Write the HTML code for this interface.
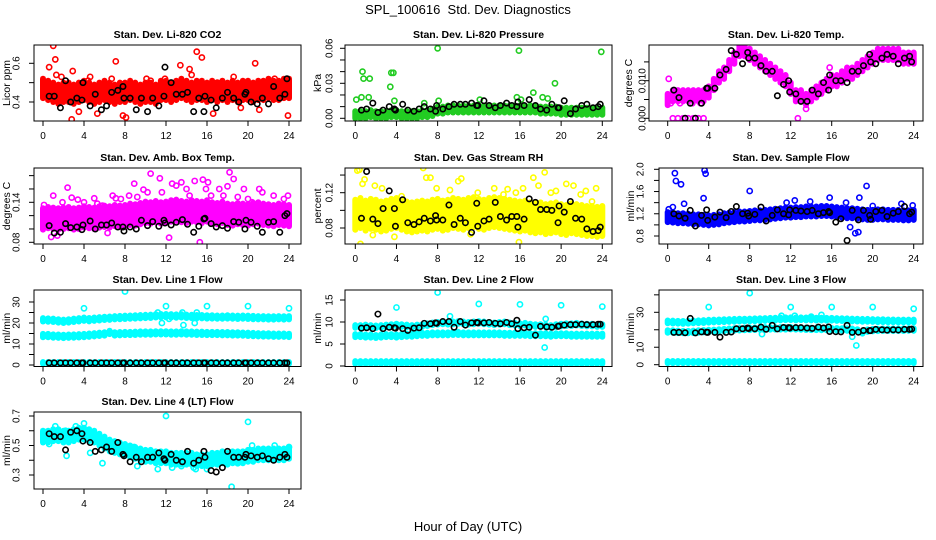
<!DOCTYPE html>
<html><head><meta charset="utf-8"><style>
body{margin:0;background:#fff}
svg{display:block;font-family:"Liberation Sans",sans-serif}
</style></head><body>
<svg id="c" width="936" height="540" viewBox="0 0 936 540">
<text x="468" y="14" text-anchor="middle" font-size="13">SPL_100616&#160; Std. Dev. Diagnostics</text>
<text x="468" y="531" text-anchor="middle" font-size="13">Hour of Day (UTC)</text>
</svg>
<script>
const blkT=[0.6,1.1,1.7,2.2,2.7,3.3,3.8,3.9,4.6,5.1,5.7,6.2,6.7,7.3,7.8,7.9,8.5,9.1,9.6,10.2,10.7,11.3,11.8,11.9,12.5,13.0,13.6,14.1,14.7,15.2,15.7,15.8,16.4,16.9,17.5,18.0,18.6,19.1,19.7,19.8,20.3,20.9,21.4,22.0,22.5,23.1,23.6,23.8];

const co2Band=[0.47,0.46,0.45,0.44,0.45,0.45,0.44,0.45,0.46,0.45,0.44,0.45,0.46,0.45,0.44,0.45,0.45,0.46,0.45,0.44,0.45,0.45,0.44,0.46,0.46,0.45,0.46,0.47,0.46,0.45,0.46,0.46,0.45,0.46,0.45,0.46,0.45,0.46,0.45,0.46,0.46,0.45,0.46,0.46,0.47,0.46,0.46,0.47,0.47];
const co2OutT=[0.1,0.6,1.0,1.2,1.3,1.8,2.8,2.9,3.5,4.4,4.6,5.3,6.7,7.1,7.8,8.1,10.1,10.5,11.9,13.4,14.3,14.5,15.0,15.5,15.9,16.6,17.0,17.5,18.6,19.3,20.7,21.1,22.6,23.9];
const co2OutV=[0.46,0.58,0.69,0.62,0.54,0.53,0.31,0.56,0.35,0.51,0.53,0.34,0.52,0.61,0.33,0.32,0.52,0.51,0.52,0.59,0.57,0.54,0.66,0.63,0.28,0.34,0.50,0.50,0.53,0.37,0.60,0.36,0.52,0.33];
const co2Blk=[0.43,0.43,0.37,0.51,0.40,0.42,0.41,0.50,0.38,0.44,0.36,0.38,0.45,0.46,0.48,0.42,0.42,0.36,0.42,0.35,0.42,0.38,0.43,0.58,0.50,0.44,0.44,0.45,0.35,0.42,0.35,0.43,0.41,0.37,0.42,0.45,0.42,0.40,0.44,0.45,0.40,0.39,0.42,0.39,0.48,0.42,0.44,0.52];

const presBand=[0.003,0.003,0.003,0.004,0.003,0.003,0.003,0.004,0.004,0.003,0.003,0.003,0.003,0.004,0.004,0.005,0.007,0.007,0.008,0.008,0.008,0.008,0.008,0.008,0.008,0.008,0.008,0.008,0.008,0.008,0.008,0.008,0.008,0.008,0.008,0.008,0.007,0.007,0.007,0.007,0.006,0.006,0.006,0.006,0.006,0.006,0.006,0.006,0.006];
const presOutT=[0.1,0.6,0.7,0.8,1.3,1.4,3.4,3.5,3.7,3.8,6.7,8.0,8.1,12.1,15.7,15.9,16.1,17.3,18.2,18.7,19.4,23.9];
const presOutV=[0.016,0.018,0.040,0.034,0.018,0.034,0.027,0.039,0.039,0.015,0.013,0.060,0.015,0.016,0.018,0.058,0.016,0.022,0.018,0.017,0.030,0.057];
const presBlk=[0.007,0.008,0.013,0.005,0.007,0.010,0.008,0.007,0.012,0.007,0.006,0.008,0.010,0.008,0.006,0.011,0.008,0.010,0.012,0.012,0.012,0.013,0.011,0.011,0.015,0.011,0.009,0.011,0.013,0.011,0.010,0.014,0.011,0.016,0.011,0.008,0.007,0.012,0.009,0.009,0.015,0.004,0.008,0.011,0.012,0.009,0.010,0.012];

const tempBand=[0.005,0.006,0.006,0.006,0.006,0.006,0.006,0.006,0.007,0.009,0.011,0.012,0.014,0.016,0.018,0.018,0.017,0.016,0.015,0.014,0.013,0.012,0.011,0.010,0.008,0.006,0.006,0.005,0.006,0.007,0.008,0.009,0.010,0.010,0.011,0.012,0.012,0.013,0.014,0.015,0.016,0.017,0.017,0.017,0.017,0.017,0.016,0.016,0.016];
const tempOutT=[0.5,1.0,1.5,2.0,2.5,3.0,3.5,0.1,12.7,15.8,13.5,0.3,1.2,2.4,3.2];
const tempOutV=[0,0,0,0,0,0,0,0.0105,0,0.0135,0.0025,0.004,0.004,0.004,0.004];
const tempBlk=[0.0075,0.0055,0.000,0.0040,0.000,0.0040,0.0080,0.0080,0.0080,0.0115,0.0130,0.0180,0.0170,0.0145,0.0175,0.0160,0.0160,0.0140,0.0125,0.0125,0.0060,0.0090,0.0100,0.0070,0.0065,0.0045,0.0045,0.0075,0.0065,0.0095,0.0075,0.0115,0.0100,0.0100,0.0095,0.0125,0.0125,0.0140,0.0170,0.0150,0.0145,0.0160,0.0170,0.0165,0.0145,0.0160,0.0165,0.0150];

const ambBand=[0.115,0.117,0.116,0.115,0.116,0.117,0.115,0.116,0.118,0.117,0.116,0.118,0.119,0.118,0.120,0.119,0.120,0.122,0.121,0.123,0.125,0.124,0.126,0.124,0.125,0.127,0.128,0.126,0.125,0.127,0.126,0.125,0.127,0.124,0.123,0.125,0.122,0.121,0.123,0.122,0.121,0.123,0.124,0.122,0.121,0.120,0.122,0.121,0.120];
const ambOutT=[0.1,0.3,0.8,1.0,1.4,1.9,2.4,2.8,3.4,4.0,5.0,5.3,5.8,6.3,6.8,7.1,7.6,8.4,8.9,9.2,9.8,10.2,10.5,11.4,11.6,12.3,12.6,13.0,13.5,14.0,14.3,14.8,15.3,15.6,15.9,16.1,16.4,17.2,17.6,18.0,18.2,18.6,19.0,19.6,20.0,20.4,21.1,21.4,22.0,22.5,23.0,23.5,23.9];
const ambOutV=[0.136,0.104,0.088,0.150,0.090,0.140,0.162,0.147,0.144,0.140,0.146,0.138,0.135,0.094,0.150,0.146,0.145,0.150,0.168,0.148,0.159,0.155,0.183,0.176,0.155,0.087,0.168,0.165,0.170,0.160,0.150,0.172,0.080,0.174,0.160,0.170,0.150,0.160,0.150,0.164,0.185,0.175,0.148,0.160,0.145,0.140,0.160,0.155,0.130,0.150,0.135,0.145,0.150];
const ambBlk=[0.105,0.094,0.095,0.108,0.102,0.103,0.099,0.106,0.112,0.100,0.106,0.106,0.109,0.103,0.103,0.097,0.103,0.100,0.113,0.105,0.111,0.104,0.113,0.109,0.106,0.110,0.114,0.107,0.095,0.104,0.115,0.116,0.108,0.103,0.105,0.101,0.111,0.110,0.100,0.113,0.110,0.104,0.095,0.110,0.111,0.095,0.120,0.123];

const rhBand=[0.095,0.097,0.094,0.096,0.095,0.093,0.094,0.096,0.097,0.095,0.093,0.092,0.093,0.094,0.093,0.095,0.096,0.094,0.095,0.097,0.096,0.095,0.097,0.098,0.096,0.095,0.097,0.098,0.097,0.096,0.095,0.094,0.093,0.094,0.092,0.091,0.092,0.090,0.091,0.092,0.090,0.089,0.091,0.090,0.089,0.088,0.088,0.087,0.088];
const rhOutT=[0.2,0.4,0.5,0.7,0.9,1.7,1.9,2.6,3.3,3.8,4.5,5.1,6.6,6.9,7.3,7.9,8.3,9.2,10.0,10.3,11.2,11.9,12.8,13.5,14.4,14.8,15.6,15.9,16.3,17.3,17.8,18.4,19.0,19.5,20.5,21.2,21.9,22.4,23.0,23.4];
const rhOutV=[0.145,0.146,0.062,0.130,0.135,0.072,0.128,0.125,0.110,0.070,0.116,0.108,0.148,0.137,0.137,0.125,0.110,0.123,0.133,0.136,0.073,0.120,0.108,0.125,0.118,0.124,0.120,0.064,0.125,0.137,0.128,0.143,0.120,0.122,0.130,0.128,0.118,0.122,0.110,0.125];
const rhBlk=[0.091,0.144,0.090,0.085,0.102,0.122,0.102,0.082,0.112,0.086,0.084,0.087,0.091,0.088,0.094,0.089,0.089,0.106,0.084,0.091,0.086,0.075,0.108,0.082,0.088,0.090,0.109,0.093,0.089,0.093,0.093,0.081,0.090,0.113,0.109,0.101,0.101,0.100,0.086,0.105,0.098,0.110,0.091,0.090,0.079,0.076,0.077,0.081];

const sfBand=[1.14,1.13,1.12,1.12,1.11,1.10,1.10,1.09,1.08,1.09,1.10,1.12,1.13,1.14,1.15,1.15,1.16,1.17,1.17,1.18,1.19,1.20,1.21,1.22,1.22,1.23,1.23,1.24,1.24,1.24,1.25,1.25,1.24,1.23,1.22,1.21,1.21,1.20,1.19,1.18,1.18,1.19,1.19,1.18,1.18,1.18,1.17,1.17,1.18];
const sfOutT=[0.1,0.5,0.7,0.8,1.3,1.6,3.5,3.6,3.7,8.0,11.6,12.4,13.9,15.8,17.4,17.8,18.3,18.6,18.7,19.4,20.0,22.8,23.9];
const sfOutV=[1.28,1.32,1.93,1.79,1.73,1.38,1.48,1.98,1.92,1.61,1.40,1.44,1.42,1.49,1.40,0.96,0.85,0.87,1.49,1.70,1.34,1.38,1.35];
const sfBlk=[1.20,1.16,1.12,1.26,0.98,1.17,1.27,1.08,1.14,1.23,1.13,1.24,1.33,1.20,1.21,1.16,1.19,1.32,1.07,1.17,1.27,1.20,1.18,1.27,1.26,1.25,1.24,1.26,1.20,1.22,1.24,1.22,1.05,1.11,0.72,1.26,1.09,1.26,1.17,1.10,1.24,1.26,1.15,1.21,1.24,1.33,1.20,1.23];

const l1BandA=[21.5,21.4,21.3,21.0,20.8,21.0,21.3,21.5,21.8,21.6,21.8,22.0,22.2,22.3,22.5,22.6,22.7,22.8,22.9,23.0,23.1,23.2,23.4,23.5,23.5,23.4,23.3,23.4,23.2,23.1,23.0,23.0,22.9,22.9,22.8,22.8,22.9,22.8,22.7,22.8,22.7,22.6,22.5,22.5,22.4,22.4,22.5,22.4,22.5];
const l1BandB=[14.0,14.0,13.8,13.7,13.6,13.7,13.8,13.9,14.0,14.2,14.4,14.6,14.8,15.5,14.8,14.9,15.0,15.0,15.1,15.2,15.2,15.2,15.3,15.3,15.3,15.2,15.2,15.3,15.2,15.2,15.1,15.1,15.0,15.0,15.0,14.9,14.9,14.8,14.8,14.7,14.6,14.5,14.4,14.3,14.3,14.2,14.2,14.2,14.1];
const l1BandC=[1.0,1.0,1.0,1.0,1.0,1.0,1.0,1.0,1.0,1.0,1.0,1.0,1.0,1.0,1.0,1.0,1.0,1.0,1.0,1.0,1.0,1.0,1.0,1.0,1.0,1.0,1.0,1.0,1.0,1.0,1.0,1.0,1.0,1.0,1.0,1.0,1.0,1.0,1.0,1.0,1.0,1.0,1.0,1.0,1.0,1.0,1.0,1.0,1.0];
const l1OutT=[4.0,8.0,11.2,11.6,12.0,12.3,13.6,13.7,14.8,15.0,16.0,20.0,24.0];
const l1OutV=[27,35,25,20,28,22,25,19,20,25,28,28,27];
const l1Blk=[1.0,1.0,1.0,1.0,1.0,1.0,1.0,1.0,1.0,1.0,1.0,1.0,1.0,1.0,1.0,1.0,1.0,1.0,1.0,1.0,1.0,1.0,1.0,1.0,1.0,1.0,1.0,1.0,1.0,1.0,1.0,1.0,1.0,1.0,1.0,1.0,1.0,1.0,1.0,1.0,1.0,1.0,1.0,1.0,1.0,1.0,1.0,1.0];

const l2BandA=[9.0,9.0,9.1,9.0,8.9,9.0,9.1,9.2,9.3,9.2,9.1,9.0,9.1,9.2,9.4,9.6,9.7,9.8,9.7,9.8,9.9,9.8,9.7,9.8,9.9,9.8,9.7,9.6,9.7,9.8,9.6,9.5,9.4,9.5,9.3,9.2,9.2,9.1,9.0,9.2,9.3,9.4,9.4,9.5,9.4,9.3,9.3,9.2,9.2];
const l2BandB=[6.9,6.9,6.8,6.8,6.7,6.8,6.9,6.9,6.8,6.9,7.0,7.0,7.1,7.2,7.2,7.3,7.3,7.3,7.3,7.4,7.4,7.3,7.3,7.3,7.3,7.3,7.3,7.3,7.3,7.2,7.2,7.2,7.2,7.2,7.1,7.1,7.1,7.1,7.0,7.1,7.1,7.1,7.0,7.0,7.0,7.0,7.0,7.0,7.0];
const l2BandC=[0.8,0.8,0.8,0.8,0.8,0.8,0.8,0.8,0.8,0.8,0.8,0.8,0.8,0.8,0.8,0.8,0.8,0.8,0.8,0.8,0.8,0.8,0.8,0.8,0.8,0.8,0.8,0.8,0.8,0.8,0.8,0.8,0.8,0.8,0.8,0.8,0.8,0.8,0.8,0.8,0.8,0.8,0.8,0.8,0.8,0.8,0.8,0.8,0.8];
const l2OutT=[4.0,8.0,9.2,12.0,16.0,18.4,18.5,20.0,24.0];
const l2OutV=[13.3,16.7,11.3,14.1,14.0,4.2,10.7,13.8,13.5];
const l2Blk=[8.6,8.7,8.5,11.8,8.5,8.8,8.7,8.6,8.5,8.1,8.6,8.7,9.7,9.6,9.8,9.7,10.1,10.1,8.8,10.1,9.3,9.8,9.9,9.8,9.8,9.9,9.7,9.6,9.9,9.6,10.4,8.5,8.7,8.8,7.0,9.0,8.9,8.8,9.0,9.1,9.3,9.4,9.4,9.5,9.4,9.4,9.5,9.5];

const l3BandA=[24.5,24.4,24.3,24.2,24.3,24.5,24.6,24.7,24.9,25.0,25.1,25.2,25.3,25.4,25.5,25.5,25.6,25.7,25.8,25.9,26.0,26.1,26.2,26.3,26.3,26.2,26.3,26.2,26.2,26.1,26.1,26.0,26.0,25.9,25.8,25.7,25.6,25.5,25.4,25.4,25.3,25.2,25.2,25.1,25.1,25.0,25.0,25.0,25.0];
const l3BandB=[19.0,19.0,18.8,18.7,18.7,18.8,19.0,19.2,19.3,19.4,19.6,19.8,20.0,20.2,20.3,20.4,20.5,20.6,20.7,20.8,20.8,20.8,20.8,20.8,20.9,20.8,20.7,20.6,20.5,20.5,20.4,20.4,20.3,20.3,20.2,20.1,20.0,19.6,18.5,19.5,19.8,19.9,20.0,20.0,20.0,20.0,20.0,20.1,20.1];
const l3BandC=[1.5,1.5,1.5,1.5,1.5,1.5,1.5,1.5,1.5,1.5,1.5,1.5,1.5,1.5,1.5,1.5,1.5,1.5,1.5,1.5,1.5,1.5,1.5,1.5,1.5,1.5,1.5,1.5,1.5,1.5,1.5,1.5,1.5,1.5,1.5,1.5,1.5,1.5,1.5,1.5,1.5,1.5,1.5,1.5,1.5,1.5,1.5,1.5,1.5];
const l3OutT=[4.0,8.0,12.0,16.0,20.0,24.0,18.4,18.0,9.2,11.1,12.4,14.0,15.0];
const l3OutV=[33,41,33,33,33,32,11,16,17.5,28,28,27.5,28.5];
const l3Blk=[18.5,18.5,18.3,26.5,18.2,18.8,18.6,18.5,18.5,15.8,18.5,18.7,20.6,20.6,21.0,20.7,20.6,21.5,20.3,22.5,20.5,21.3,21.2,21.0,21.2,21.2,21.0,20.8,21.5,21.0,21.6,19.0,18.9,18.8,22.5,18.5,18.6,19.6,19.5,19.5,20.2,20.0,19.8,20.0,19.9,20.2,20.2,20.4];

const l4Band=[0.56,0.56,0.57,0.57,0.56,0.56,0.57,0.58,0.58,0.57,0.56,0.54,0.52,0.50,0.49,0.48,0.47,0.46,0.45,0.44,0.43,0.43,0.42,0.42,0.42,0.41,0.41,0.41,0.41,0.41,0.40,0.40,0.40,0.41,0.41,0.42,0.41,0.42,0.42,0.42,0.43,0.43,0.44,0.44,0.44,0.44,0.44,0.44,0.45];
const l4OutT=[0.3,0.6,1.2,2.2,2.3,3.2,4.0,4.6,5.8,6.3,8.9,9.2,11.2,12.0,12.6,13.5,14.7,14.9,16.0,18.4,19.0,20.0,20.4,22.6,24.0];
const l4OutV=[0.55,0.51,0.63,0.60,0.43,0.63,0.65,0.45,0.38,0.53,0.49,0.36,0.34,0.70,0.35,0.36,0.35,0.34,0.34,0.22,0.38,0.66,0.50,0.50,0.49];
const l4Blk=[0.58,0.56,0.56,0.47,0.59,0.60,0.58,0.53,0.52,0.46,0.47,0.49,0.46,0.52,0.44,0.43,0.39,0.42,0.39,0.42,0.42,0.45,0.41,0.40,0.44,0.40,0.39,0.46,0.38,0.40,0.46,0.42,0.33,0.32,0.35,0.46,0.42,0.42,0.42,0.44,0.43,0.42,0.43,0.41,0.40,0.42,0.44,0.42];

const xTicks=[0,4,8,12,16,20,24];
const cols=[{l:34,r:301,x0:43,x24:289,lab:17,tit:7},{l:345,r:612,x0:355.3,x24:602.3,lab:330,tit:318},{l:649,r:923,x0:667.7,x24:913.7,lab:643,tit:629}];
const rows=[{t:45,b:121},{t:168,b:244},{t:290,b:366.5},{t:412,b:489}];
const panels=[
 {name:'co2',title:'Stan. Dev. Li-820 CO2',yt:'Licor ppm',c:0,r:0,col:'#ff0000',ref:[0.6,63.3,0.4,102],ticks:[0.4,0.5,0.6],labs:['0.4','0.6'],bands:[[co2Band,0.05]],oT:co2OutT,oV:co2OutV,blk:co2Blk},
 {name:'pressure',title:'Stan. Dev. Li-820 Pressure',yt:'kPa',c:1,r:0,col:'#22cc22',ref:[0.06,48.3,0,118.3],ticks:[0,0.01,0.02,0.03,0.04,0.05,0.06],labs:['0.00','0.03','0.06'],bands:[[presBand,0.003]],oT:presOutT,oV:presOutV,blk:presBlk},
 {name:'temp',title:'Stan. Dev. Li-820 Temp.',yt:'degrees C',c:2,r:0,col:'#ff00ff',ref:[0.01,80.7,0,118.3],ticks:[0,0.005,0.01,0.015],labs:['0.000','0.010'],bands:[[tempBand,0.0015]],oT:tempOutT,oV:tempOutV,blk:tempBlk},
 {name:'amb-box-temp',title:'Stan. Dev. Amb. Box Temp.',yt:'degrees C',c:0,r:1,col:'#ff00ff',ref:[0.14,202.3,0.08,242.3],ticks:[0.08,0.10,0.12,0.14,0.16,0.18],labs:['0.08','0.14'],bands:[[ambBand,0.016]],oT:ambOutT,oV:ambOutV,blk:ambBlk},
 {name:'gas-rh',title:'Stan. Dev. Gas Stream RH',yt:'percent',c:1,r:1,col:'#ffff00',ref:[0.12,192.7,0.08,228],ticks:[0.08,0.10,0.12,0.14],labs:['0.08','0.12'],bands:[[rhBand,0.017]],oT:rhOutT,oV:rhOutV,blk:rhBlk},
 {name:'sample-flow',title:'Stan. Dev. Sample Flow',yt:'ml/min',c:2,r:1,col:'#0000ff',l:659,lab:641,tit:631,ref:[2.0,169.3,0.8,236],ticks:[0.8,1.0,1.2,1.4,1.6,1.8,2.0],labs:['0.8','1.2','1.6','2.0'],bands:[[sfBand,0.09]],oT:sfOutT,oV:sfOutV,blk:sfBlk},
 {name:'line1-flow',title:'Stan. Dev. Line 1 Flow',yt:'ml/min',c:0,r:2,col:'#00ffff',ref:[30,302,0,365],ticks:[0,5,10,15,20,25,30],labs:['0','10','20','30'],bands:[[l1BandA,0.8],[l1BandB,0.8],[l1BandC,0.4]],oT:l1OutT,oV:l1OutV,blk:l1Blk},
 {name:'line2-flow',title:'Stan. Dev. Line 2 Flow',yt:'ml/min',c:1,r:2,col:'#00ffff',ref:[15,300,0,366],ticks:[0,5,10,15],labs:['0','5','10','15'],bands:[[l2BandA,0.3],[l2BandB,0.35],[l2BandC,0.3]],oT:l2OutT,oV:l2OutV,blk:l2Blk},
 {name:'line3-flow',title:'Stan. Dev. Line 3 Flow',yt:'ml/min',c:2,r:2,col:'#00ffff',l:659,lab:641,tit:631,ref:[30,312.3,0,364.7],ticks:[0,10,20,30,40],labs:['0','10','30'],bands:[[l3BandA,0.8],[l3BandB,0.7],[l3BandC,0.6]],oT:l3OutT,oV:l3OutV,blk:l3Blk},
 {name:'line4-flow',title:'Stan. Dev. Line 4 (LT) Flow',yt:'ml/min',c:0,r:3,col:'#00ffff',ref:[0.7,416,0.3,475],ticks:[0.3,0.4,0.5,0.6,0.7],labs:['0.3','0.5','0.7'],bands:[[l4Band,0.04]],oT:l4OutT,oV:l4OutV,blk:l4Blk}
];
const NS='http://www.w3.org/2000/svg';
const svg=document.getElementById('c');
function mk(tag,attrs,parent){const e=document.createElementNS(NS,tag);for(const k in attrs)e.setAttribute(k,attrs[k]);parent.appendChild(e);return e;}
panels.forEach((p,pi)=>{
 const C=cols[p.c],R=rows[p.r];
 const L=p.l||C.l, Rt=C.r, T=R.t, B=R.b;
 const xs=t=>C.x0+(C.x24-C.x0)*t/24;
 const ys=v=>p.ref[1]+(v-p.ref[0])*(p.ref[3]-p.ref[1])/(p.ref[2]-p.ref[0]);
 const g=mk('g',{},svg);
 
 
 const cp=mk('clipPath',{id:'cp'+pi},g);
 mk('rect',{x:L,y:T,width:Rt-L,height:B-T},cp);
 const tt=mk('text',{x:(L+Rt)/2,y:T-7,'text-anchor':'middle','font-size':10.5,'font-weight':'bold'},g);
 tt.textContent=p.title;
 
 
 const marks=mk('g',{'clip-path':'url(#cp'+pi+')'},g);
 
 
 p.bands.forEach(([arr,sp])=>{
  const n=arr.length;
  arr.forEach((v,i)=>{
   const t=i*24/(n-1);
   const y1=ys(v+sp),y2=ys(v-sp);
   const ln=mk('line',{x1:xs(t),x2:xs(t),y1:y1,y2:y2,stroke:p.col,'stroke-width':6,'stroke-linecap':'round'},marks);
   
   
  });
 });
 p.oT.forEach((t,i)=>{
  if(p.oV[i]===undefined)return;
  const c=mk('circle',{cx:xs(t),cy:ys(p.oV[i]),r:2.6,fill:'none',stroke:p.col,'stroke-width':1.6},marks);
  
  
 });
 p.blk.forEach((v,i)=>{
  if(blkT[i]===undefined)return;
  const c=mk('circle',{cx:xs(blkT[i]),cy:ys(v),r:2.7,fill:'none',stroke:'#000','stroke-width':1.6},marks);
  
  
 });
 const box=mk('rect',{x:L,y:T,width:Rt-L,height:B-T,fill:'none',stroke:'#000','stroke-width':1},g);
 
 
 const xa=mk('g',{},g);
 
 
 mk('line',{x1:xs(0),x2:xs(24),y1:B,y2:B,stroke:'#000'},xa);
 xTicks.forEach(t=>{
  mk('line',{x1:xs(t),x2:xs(t),y1:B,y2:B+5,stroke:'#000'},xa);
  const tx=mk('text',{x:xs(t),y:B+18,'text-anchor':'middle','font-size':10},xa);
  tx.textContent=t;
 });
 const ya=mk('g',{},g);
 
 
 const ty0=ys(p.ticks[0]),ty1=ys(p.ticks[p.ticks.length-1]);
 mk('line',{x1:L,x2:L,y1:ty0,y2:ty1,stroke:'#000'},ya);
 p.ticks.forEach(v=>{mk('line',{x1:L-5,x2:L,y1:ys(v),y2:ys(v),stroke:'#000'},ya);});
 const lx=p.lab||C.lab;
 p.labs.forEach(s=>{
  const y=ys(parseFloat(s));
  const tx=mk('text',{x:lx,y:y,'text-anchor':'middle','font-size':10,transform:'rotate(-90 '+lx+' '+y+')','dominant-baseline':'central'},ya);
  tx.textContent=s;
 });
 const tx2=p.tit||C.tit, cy=(T+B)/2;
 const yt=mk('text',{x:tx2,y:cy,'text-anchor':'middle','font-size':10.5,transform:'rotate(-90 '+tx2+' '+cy+')','dominant-baseline':'central'},g);
 yt.textContent=p.yt;
 
 
});
</script>
</body></html>
